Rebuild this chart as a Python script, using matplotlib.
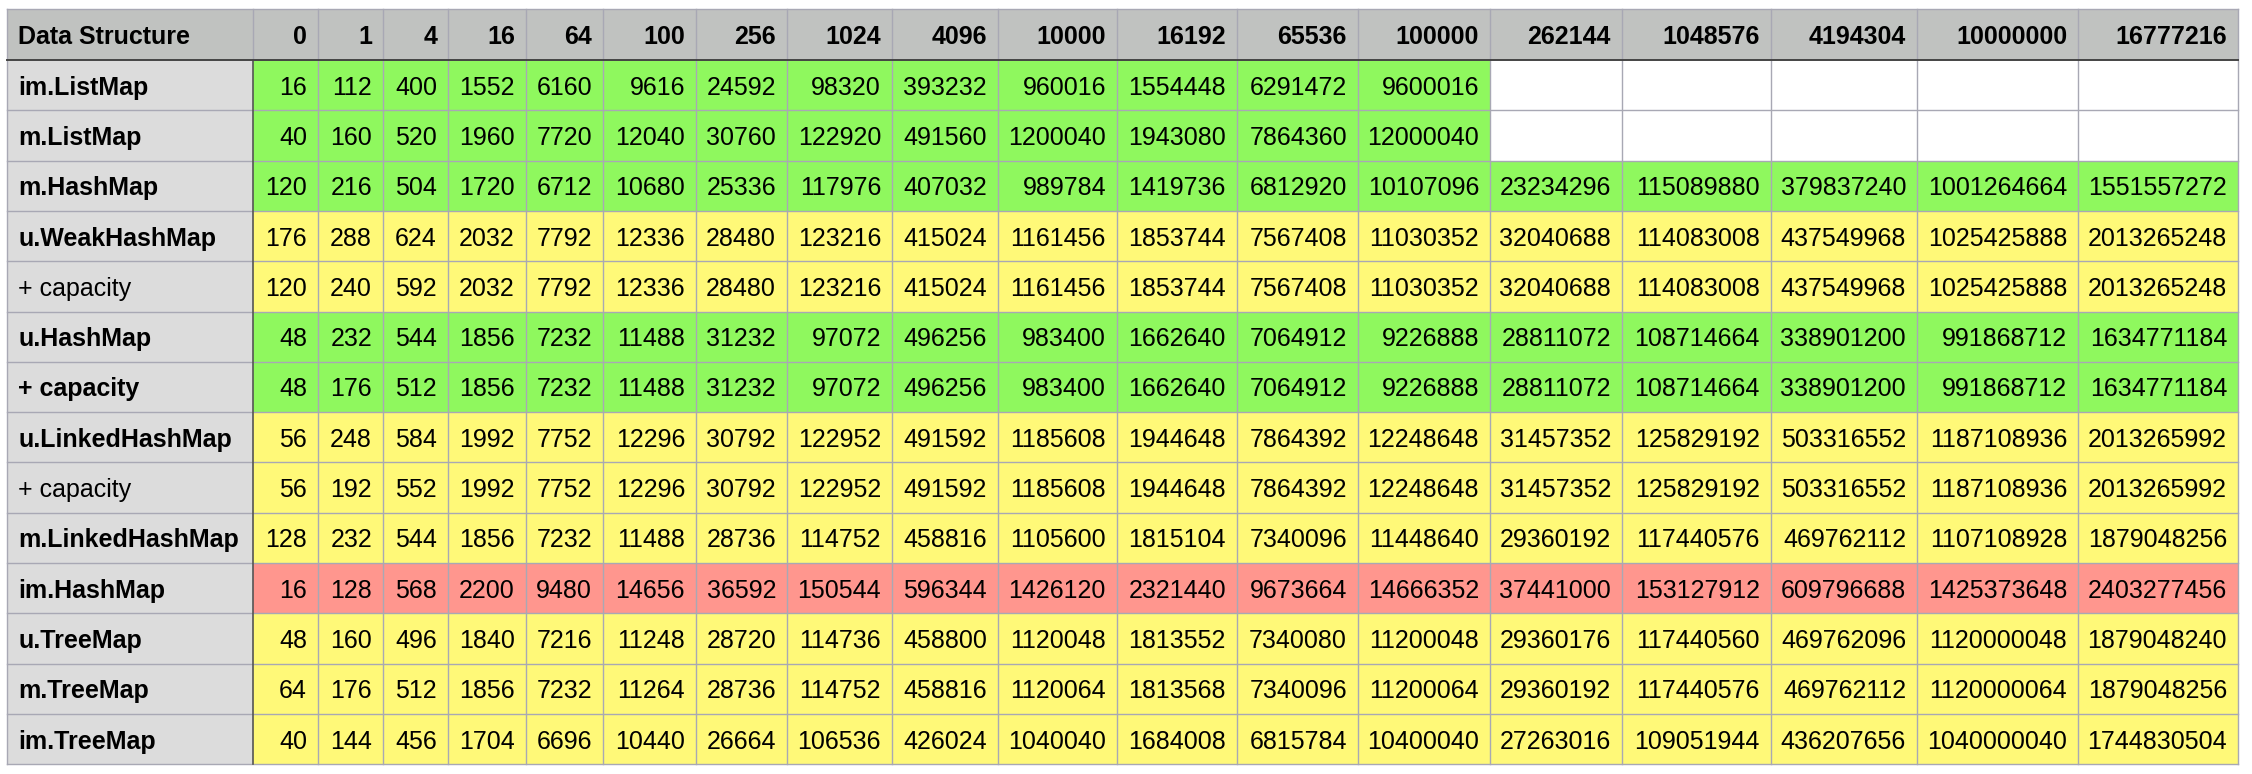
import matplotlib.pyplot as plt
from matplotlib.patches import Rectangle

# column headers (map sizes)
sizes = ['0', '1', '4', '16', '64', '100', '256', '1024', '4096', '10000',
         '16192', '65536', '100000', '262144', '1048576', '4194304',
         '10000000', '16777216']

structures = ['im.ListMap', 'm.ListMap', 'm.HashMap', 'u.WeakHashMap', '+ capacity',
              'u.HashMap', '+ capacity', 'u.LinkedHashMap', '+ capacity',
              'm.LinkedHashMap', 'im.HashMap', 'u.TreeMap', 'm.TreeMap', 'im.TreeMap']
bold_label = [True, True, True, True, False, True, True, True, False,
              True, True, True, True, True]
row_rating = ['good', 'good', 'good', 'mid', 'mid', 'good', 'good', 'mid', 'mid',
              'mid', 'bad', 'mid', 'mid', 'mid']

im_listmap = [16, 112, 400, 1552, 6160, 9616, 24592, 98320, 393232, 960016,
              1554448, 6291472, 9600016, None, None, None, None, None]
m_listmap = [40, 160, 520, 1960, 7720, 12040, 30760, 122920, 491560, 1200040,
             1943080, 7864360, 12000040, None, None, None, None, None]
m_hashmap = [120, 216, 504, 1720, 6712, 10680, 25336, 117976, 407032, 989784,
             1419736, 6812920, 10107096, 23234296, 115089880, 379837240,
             1001264664, 1551557272]
u_weakhashmap = [176, 288, 624, 2032, 7792, 12336, 28480, 123216, 415024, 1161456,
                 1853744, 7567408, 11030352, 32040688, 114083008, 437549968,
                 1025425888, 2013265248]
u_weakhashmap_cap = [120, 240, 592, 2032, 7792, 12336, 28480, 123216, 415024, 1161456,
                     1853744, 7567408, 11030352, 32040688, 114083008, 437549968,
                     1025425888, 2013265248]
u_hashmap = [48, 232, 544, 1856, 7232, 11488, 31232, 97072, 496256, 983400,
             1662640, 7064912, 9226888, 28811072, 108714664, 338901200,
             991868712, 1634771184]
u_hashmap_cap = [48, 176, 512, 1856, 7232, 11488, 31232, 97072, 496256, 983400,
                 1662640, 7064912, 9226888, 28811072, 108714664, 338901200,
                 991868712, 1634771184]
u_linkedhashmap = [56, 248, 584, 1992, 7752, 12296, 30792, 122952, 491592, 1185608,
                   1944648, 7864392, 12248648, 31457352, 125829192, 503316552,
                   1187108936, 2013265992]
u_linkedhashmap_cap = [56, 192, 552, 1992, 7752, 12296, 30792, 122952, 491592, 1185608,
                       1944648, 7864392, 12248648, 31457352, 125829192, 503316552,
                       1187108936, 2013265992]
m_linkedhashmap = [128, 232, 544, 1856, 7232, 11488, 28736, 114752, 458816, 1105600,
                   1815104, 7340096, 11448640, 29360192, 117440576, 469762112,
                   1107108928, 1879048256]
im_hashmap = [16, 128, 568, 2200, 9480, 14656, 36592, 150544, 596344, 1426120,
              2321440, 9673664, 14666352, 37441000, 153127912, 609796688,
              1425373648, 2403277456]
u_treemap = [48, 160, 496, 1840, 7216, 11248, 28720, 114736, 458800, 1120048,
             1813552, 7340080, 11200048, 29360176, 117440560, 469762096,
             1120000048, 1879048240]
m_treemap = [64, 176, 512, 1856, 7232, 11264, 28736, 114752, 458816, 1120064,
             1813568, 7340096, 11200064, 29360192, 117440576, 469762112,
             1120000064, 1879048256]
im_treemap = [40, 144, 456, 1704, 6696, 10440, 26664, 106536, 426024, 1040040,
              1684008, 6815784, 10400040, 27263016, 109051944, 436207656,
              1040000040, 1744830504]

rows = [im_listmap, m_listmap, m_hashmap, u_weakhashmap, u_weakhashmap_cap,
        u_hashmap, u_hashmap_cap, u_linkedhashmap, u_linkedhashmap_cap,
        m_linkedhashmap, im_hashmap, u_treemap, m_treemap, im_treemap]

# layout in pixels
W, H = 2252, 774
col_edges = [7, 253, 318, 383, 448, 526, 603, 696, 787, 892, 998, 1117, 1237,
             1358, 1490, 1622, 1771, 1917, 2078, 2238]
top, head_bottom, row_h = 9, 60, 50.3
pad = 11

fill = {'good': '#8ff85e', 'mid': '#fff978', 'bad': '#ff968e'}
header_bg = '#c0c2c0'
label_bg = '#dcdcdc'
grid_col = '#a8a8b4'

plt.rcParams['font.family'] = ['Liberation Sans', 'DejaVu Sans']
fig = plt.figure(figsize=(W / 100, H / 100), dpi=100)
ax = fig.add_axes([0, 0, 1, 1])
ax.set_xlim(0, W)
ax.set_ylim(H, 0)
ax.axis('off')

fs = 18

# header row
ax.add_patch(Rectangle((col_edges[0], top), col_edges[-1] - col_edges[0],
                       head_bottom - top, facecolor=header_bg, edgecolor='none'))
hy = (top + head_bottom) / 2
ax.text(col_edges[0] + pad, hy, 'Data Structure', ha='left', va='center_baseline',
        fontsize=fs, fontweight='bold')
for j, s in enumerate(sizes):
    ax.text(col_edges[j + 2] - pad, hy, s, ha='right', va='center_baseline',
            fontsize=fs, fontweight='bold')

# body
for i, (name, vals) in enumerate(zip(structures, rows)):
    y0 = head_bottom + i * row_h
    yc = y0 + row_h / 2
    ax.add_patch(Rectangle((col_edges[0], y0), col_edges[1] - col_edges[0], row_h,
                           facecolor=label_bg, edgecolor='none'))
    ax.text(col_edges[0] + pad, yc, name, ha='left', va='center_baseline', fontsize=fs,
            fontweight='bold' if bold_label[i] else 'normal')
    for j, v in enumerate(vals):
        x0, x1 = col_edges[j + 1], col_edges[j + 2]
        c = 'white' if v is None else fill[row_rating[i]]
        ax.add_patch(Rectangle((x0, y0), x1 - x0, row_h, facecolor=c, edgecolor='none'))
        if v is not None:
            ax.text(x1 - pad, yc, str(v), ha='right', va='center_baseline', fontsize=fs)

bottom = head_bottom + len(rows) * row_h

# grid lines
for k in range(len(rows) + 1):
    y = head_bottom + k * row_h
    if k > 0:
        ax.plot([col_edges[0], col_edges[-1]], [y, y], color=grid_col, lw=1.0)
ax.plot([col_edges[0], col_edges[-1]], [top, top], color=grid_col, lw=1.0)
for k, x in enumerate(col_edges):
    if k == 1:
        continue
    ax.plot([x, x], [top, bottom], color=grid_col, lw=1.0)
ax.plot([col_edges[1], col_edges[1]], [top, head_bottom], color=grid_col, lw=1.0)
ax.plot([col_edges[1], col_edges[1]], [head_bottom, bottom], color='#555555', lw=1.2)
ax.plot([col_edges[0], col_edges[-1]], [head_bottom, head_bottom], color='#444444', lw=1.4)

fig.savefig('out.png', dpi=100)
